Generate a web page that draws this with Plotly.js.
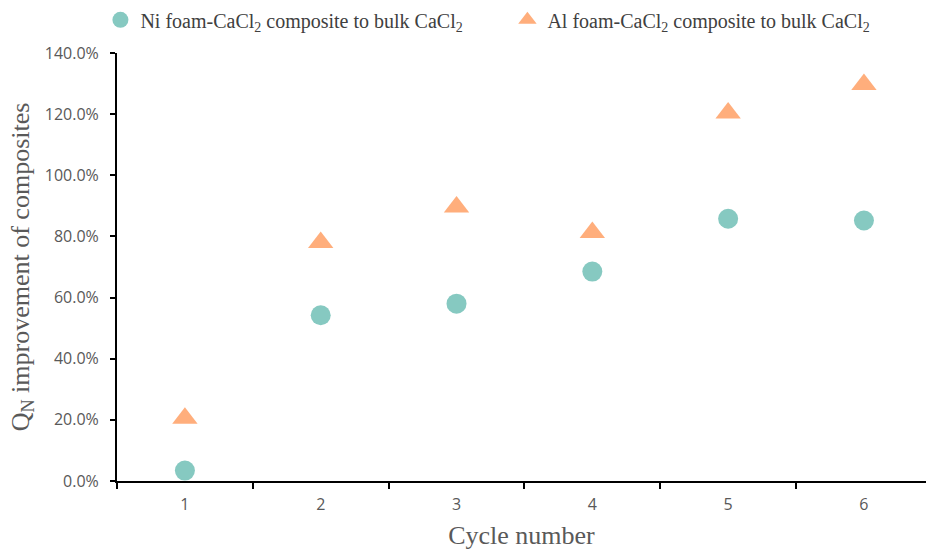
<!DOCTYPE html>
<html>
<head>
<meta charset="utf-8">
<script src="https://cdn.plot.ly/plotly-3.0.1.min.js"></script>
<style>html,body{margin:0;padding:0;background:#fff;}#chart{width:927px;height:550px;}</style>
</head>
<body>
<div id="chart"></div>
<script>
const cycles = ['1', '2', '3', '4', '5', '6'];
const niFoam = [0.034, 0.542, 0.580, 0.685, 0.858, 0.852];
const alFoam = [0.205, 0.780, 0.896, 0.813, 1.204, 1.297];
const niName = 'Ni foam-CaCl<sub>2</sub> composite to bulk CaCl<sub>2</sub>';
const alName = 'Al foam-CaCl<sub>2</sub> composite to bulk CaCl<sub>2</sub>';
const yTicks = [0, 0.2, 0.4, 0.6, 0.8, 1.0, 1.2, 1.4];

const traces = [
  {x: cycles, y: niFoam, name: niName, type: 'scatter', mode: 'markers',
   marker: {symbol: 'circle', size: 20, color: '#86C9C1'}},
  {x: cycles, y: alFoam, name: alName, type: 'scatter', mode: 'markers',
   marker: {symbol: 'triangle-up', size: 22, color: '#FFAE7C'}}
];

const layout = {
  width: 927, height: 550,
  margin: {l: 117, r: 1, t: 52, b: 69},
  paper_bgcolor: '#fff', plot_bgcolor: '#fff',
  showlegend: true,
  legend: {orientation: 'h', x: -0.0205, xanchor: 'left', y: 1.075, yanchor: 'middle',
    font: {family: 'Liberation Serif', size: 20, color: '#404040'},
    entrywidth: 362, entrywidthmode: 'pixels'},
  xaxis: {type: 'category', range: [-0.5, 5.457], tickson: 'boundaries',
    ticks: 'outside', ticklen: 6, tickwidth: 2, tickcolor: '#000',
    showline: true, linecolor: '#000', linewidth: 2, showgrid: false, zeroline: false,
    ticklabelstandoff: 8,
    tickfont: {family: 'Open Sans', size: 16, color: '#595959'},
    title: {text: 'Cycle number', font: {family: 'Liberation Serif', size: 26, color: '#595959'}, standoff: 16}},
  yaxis: {range: [0, 1.4], tickvals: yTicks, tickformat: '.1%',
    ticks: 'outside', ticklen: 5, tickwidth: 2, tickcolor: '#000',
    showline: true, linecolor: '#000', linewidth: 2, showgrid: false, zeroline: false,
    ticklabelstandoff: 8,
    tickfont: {family: 'Open Sans', size: 16, color: '#595959'},
    title: {text: 'Q<sub>N</sub> improvement of composites', font: {family: 'Liberation Serif', size: 26, color: '#595959'}, standoff: 8}}
};

Plotly.newPlot('chart', traces, layout, {displayModeBar: false, staticPlot: true});
</script>
</body>
</html>
